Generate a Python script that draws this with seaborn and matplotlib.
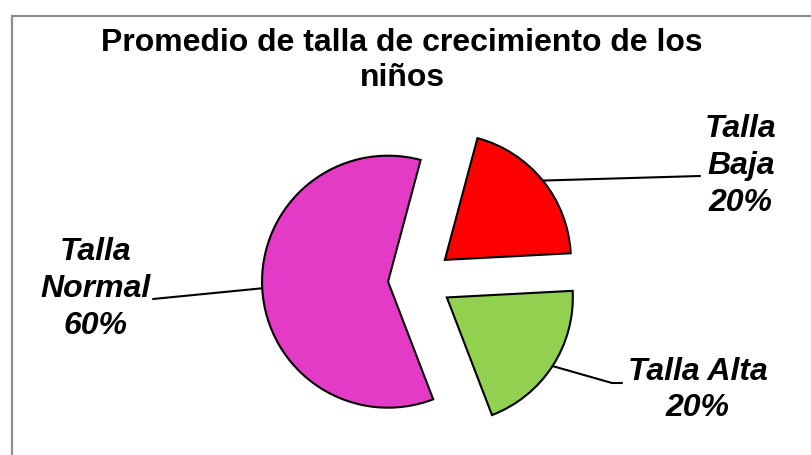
import numpy as np
import matplotlib
matplotlib.use("Agg")
import matplotlib.pyplot as plt
from matplotlib.patches import Rectangle
import seaborn as sns

# ---- data ----
categories = ["Talla Baja", "Talla Normal", "Talla Alta"]
values = [20, 60, 20]
label_texts = ["Talla\nBaja\n20%", "Talla\nNormal\n60%", "Talla Alta\n20%"]
colors = ["#FF0000", "#E43BC7", "#92D050"]
title = "Promedio de talla de crecimiento de los\nniños"

sns.set_theme(style="white")
plt.rcParams["font.family"] = ["Liberation Sans", "DejaVu Sans"]

W, H = 812, 455
fig = plt.figure(figsize=(W / 100, H / 100), dpi=100)
ax = fig.add_axes([0, 0, 1, 1])

R = 126
wedges, _ = ax.pie(values, colors=colors, startangle=3, counterclock=True,
                   center=(420, H - 280), radius=R, explode=[32] * 3,
                   wedgeprops=dict(edgecolor="black", linewidth=1.5))
ax.set_xlim(0, W)
ax.set_ylim(0, H)
ax.set_aspect("auto")
ax.axis("off")

# chart-area border (cut off at right and bottom like the reference)
ax.add_patch(Rectangle((12, -20), W + 40, H - 15.5 + 20, fill=False,
                       edgecolor="#8f8f8f", linewidth=1.6, zorder=0))

# title
ax.text(402, H - 28, title, ha="center", va="top", fontsize=23,
        fontweight="bold", linespacing=1.2, color="black")

# labels and leader lines
label_pos = [(741, H - 166), (96, H - 289), (698, H - 390)]
leader_ends = [[(700, H - 176)], [(153, H - 299)], [(612, H - 383), (622, H - 383)]]
for w, txt, pos, ends in zip(wedges, label_texts, label_pos, leader_ends):
    mid = np.deg2rad((w.theta1 + w.theta2) / 2)
    cx, cy = w.center
    sx, sy = cx + w.r * np.cos(mid), cy + w.r * np.sin(mid)
    xs = [sx] + [e[0] for e in ends]
    ys = [sy] + [e[1] for e in ends]
    ax.plot(xs, ys, color="black", linewidth=1.5, zorder=3)
    ax.text(pos[0], pos[1], txt, ha="center", va="center", fontsize=23,
            fontweight="bold", fontstyle="italic", linespacing=1.3,
            color="black")

fig.savefig("out.png", dpi=100)
